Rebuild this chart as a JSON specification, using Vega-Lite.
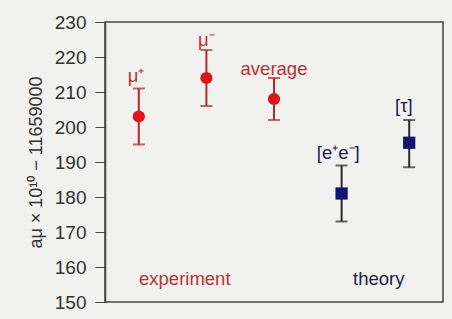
{
  "$schema": "https://vega.github.io/schema/vega-lite/v6.json",
  "width": 338,
  "height": 280,
  "autosize": {"type": "none"},
  "padding": {"left": 105, "top": 22, "right": 9, "bottom": 17},
  "background": "#f1f1ef",
  "config": {
    "view": {"stroke": "#444444", "strokeWidth": 1.5, "fill": "#f1f1ef"},
    "font": "Liberation Sans",
    "axisY": {"values": [150,160,170,180,190,200,210,220,230], "tickCount": 9, "labelOverlap": false,
      "titleFontSize": 18, "titleFontWeight": "normal", "titleColor": "#333", "titlePadding": 9,
      "labelFontSize": 19, "labelColor": "#333", "labelPadding": 9, "tickSize": 10,
      "tickColor": "#444", "domainColor": "#444", "domainWidth": 1.5, "grid": false}
  },
  "resolve": {"scale": {"fill": "independent", "color": "independent"}},
  "datasets": {
    "pts": [
      {"name": "mu+", "x": 0.5, "v": 203, "lo": 195, "hi": 211, "group": "experiment"},
      {"name": "mu-", "x": 1.5, "v": 214, "lo": 206, "hi": 222, "group": "experiment"},
      {"name": "average", "x": 2.5, "v": 208, "lo": 202, "hi": 214, "group": "experiment"},
      {"name": "ee", "x": 3.5, "v": 181, "lo": 173, "hi": 189, "group": "theory"},
      {"name": "tau", "x": 4.5, "v": 195.5, "lo": 188.5, "hi": 202, "group": "theory"}
    ],
    "labels": [
      {"text": "μ⁺", "x": 0.46, "y": 214.5, "group": "experiment"},
      {"text": "μ⁻", "x": 1.5, "y": 225, "group": "experiment"},
      {"text": "average", "x": 2.5, "y": 216.5, "group": "experiment"},
      {"text": "[e⁺e⁻]", "x": 3.45, "y": 192.5, "group": "theory"},
      {"text": "[τ]", "x": 4.42, "y": 206, "group": "theory"},
      {"text": "experiment", "x": 1.18, "y": 156.5, "group": "experiment"},
      {"text": "theory", "x": 4.05, "y": 156.5, "group": "theory"}
    ]
  },
  "layer": [
    {
      "data": {"name": "pts"},
      "mark": {"type": "rule", "strokeWidth": 2},
      "encoding": {
        "x": {"field": "x", "type": "quantitative", "scale": {"domain": [0, 5]}, "axis": null},
        "y": {"field": "lo", "type": "quantitative", "scale": {"domain": [150, 230], "nice": false},
          "axis": {"title": "aμ × 10¹⁰ − 11659000", "values": [150,160,170,180,190,200,210,220,230], "labelPadding": 9, "tickSize": 10}},
        "y2": {"field": "hi"},
        "color": {"field": "group", "type": "nominal", "scale": {"domain": ["experiment", "theory"], "range": ["#b3272d", "#2b2b2b"]}, "legend": null}
      }
    },
    {
      "data": {"name": "pts"},
      "mark": {"type": "tick", "orient": "horizontal", "size": 12, "thickness": 2},
      "encoding": {
        "x": {"field": "x", "type": "quantitative"},
        "y": {"field": "lo", "type": "quantitative", "axis": {"title": "aμ × 10¹⁰ − 11659000", "values": [150,160,170,180,190,200,210,220,230], "labelPadding": 9, "tickSize": 10}},
        "color": {"field": "group", "type": "nominal", "scale": {"domain": ["experiment", "theory"], "range": ["#b3272d", "#2b2b2b"]}, "legend": null}
      }
    },
    {
      "data": {"name": "pts"},
      "mark": {"type": "tick", "orient": "horizontal", "size": 12, "thickness": 2},
      "encoding": {
        "x": {"field": "x", "type": "quantitative"},
        "y": {"field": "hi", "type": "quantitative", "axis": {"title": "aμ × 10¹⁰ − 11659000", "values": [150,160,170,180,190,200,210,220,230], "labelPadding": 9, "tickSize": 10}},
        "color": {"field": "group", "type": "nominal", "scale": {"domain": ["experiment", "theory"], "range": ["#b3272d", "#2b2b2b"]}, "legend": null}
      }
    },
    {
      "data": {"name": "pts"},
      "mark": {"type": "point", "filled": true, "opacity": 1, "size": 150},
      "encoding": {
        "x": {"field": "x", "type": "quantitative"},
        "y": {"field": "v", "type": "quantitative", "axis": {"title": "aμ × 10¹⁰ − 11659000", "values": [150,160,170,180,190,200,210,220,230], "labelPadding": 9, "tickSize": 10}},
        "shape": {"field": "group", "type": "nominal", "scale": {"domain": ["experiment", "theory"], "range": ["circle", "square"]}, "legend": null},
        "fill": {"field": "group", "type": "nominal", "scale": {"domain": ["experiment", "theory"], "range": ["#e0141b", "#14146e"]}, "legend": null}
      }
    },
    {
      "data": {"name": "labels"},
      "mark": {"type": "text", "fontSize": 18.5, "baseline": "middle", "align": "center"},
      "encoding": {
        "x": {"field": "x", "type": "quantitative"},
        "y": {"field": "y", "type": "quantitative", "axis": {"title": "aμ × 10¹⁰ − 11659000", "values": [150,160,170,180,190,200,210,220,230], "labelPadding": 9, "tickSize": 10}},
        "text": {"field": "text"},
        "fill": {"field": "group", "type": "nominal", "scale": {"domain": ["experiment", "theory"], "range": ["#b83234", "#1b1b4a"]}, "legend": null}
      }
    }
  ]
}
